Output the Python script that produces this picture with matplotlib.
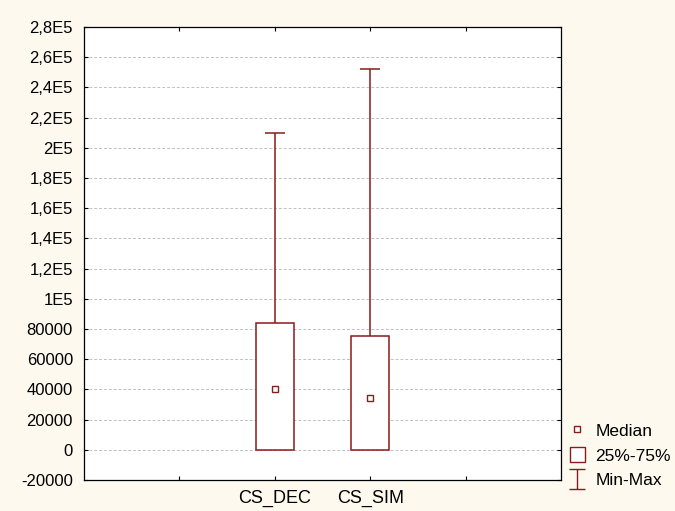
import numpy as np
import matplotlib.pyplot as plt
from matplotlib.path import Path
from matplotlib.lines import Line2D
from matplotlib.patches import Patch

plt.rcParams['font.family'] = ['Liberation Sans', 'DejaVu Sans']

# box statistics
categories = ["CS_DEC", "CS_SIM"]
xpos       = [2, 3]
mins       = [0, 0]
q1         = [0, 0]
medians    = [40000, 34500]
q3         = [84000, 75500]
maxs       = [210000, 252000]

yticks      = [-20000, 0, 20000, 40000, 60000, 80000, 100000, 120000, 140000,
               160000, 180000, 200000, 220000, 240000, 260000, 280000]
yticklabels = ["-20000", "0", "20000", "40000", "60000", "80000", "1E5",
               "1,2E5", "1,4E5", "1,6E5", "1,8E5", "2E5", "2,2E5", "2,4E5",
               "2,6E5", "2,8E5"]

bg    = "#fdf9ef"
color = "#8b1a1a"

fig = plt.figure(figsize=(6.75, 5.11), dpi=100, facecolor=bg)
ax  = fig.add_axes([84/675, 1-480/511, (561-84)/675, (480-27)/511])
ax.set_facecolor("white")

# boxes (25%-75%)
ax.bar(xpos, np.subtract(q3, q1), bottom=q1, width=0.4,
       facecolor="white", edgecolor=color, linewidth=1.1, zorder=3)
# whiskers and caps (min-max)
ax.vlines(xpos, q3, maxs, color=color, lw=1.1, zorder=3)
ax.vlines(xpos, mins, q1, color=color, lw=1.1, zorder=3)
ax.hlines(maxs, np.array(xpos)-0.105, np.array(xpos)+0.105, color=color, lw=1.1, zorder=3)
# medians
ax.plot(xpos, medians, ls="none", marker="s", ms=4.5, mfc="white",
        mec=color, mew=1.0, zorder=4)

ax.set_xlim(0, 5)
ax.set_ylim(-20000, 280000)
ax.set_xticks([1, 2, 3, 4])
ax.set_xticklabels(["", categories[0], categories[1], ""])
ax.set_yticks(yticks)
ax.set_yticklabels(yticklabels)
ax.tick_params(direction="in", length=3, width=0.8, labelsize=12,
               top=True, right=True, colors="black", pad=8)
ax.tick_params(axis="x", labelsize=13, pad=7)
ax.grid(axis="y", ls=(0, (3, 2)), color="#c0c0c0", lw=0.7, zorder=0)
for s in ax.spines.values():
    s.set_linewidth(0.9)

# legend
imark = Path([(-0.85, 1), (0.85, 1), (0, 1), (0, -1), (-0.85, -1), (0.85, -1)],
             [Path.MOVETO, Path.LINETO, Path.MOVETO, Path.LINETO,
              Path.MOVETO, Path.LINETO])
handles = [
    Line2D([], [], ls="none", marker="s", ms=4, mfc="white", mec=color, mew=1.0),
    Patch(facecolor="white", edgecolor=color, linewidth=1.0),
    Line2D([], [], ls="none", marker=imark, ms=13.7, mec=color, mew=1.0),
]
fig.legend(handles, ["Median", "25%-75%", "Min-Max"], loc="lower left",
           bbox_to_anchor=(554/675, 7/511), frameon=False, fontsize=12.5,
           handlelength=0.87, handleheight=1.0, handletextpad=0.6,
           labelspacing=0.47, borderpad=0.4)

plt.savefig("out.png", dpi=100, facecolor=bg)
plt.close()
